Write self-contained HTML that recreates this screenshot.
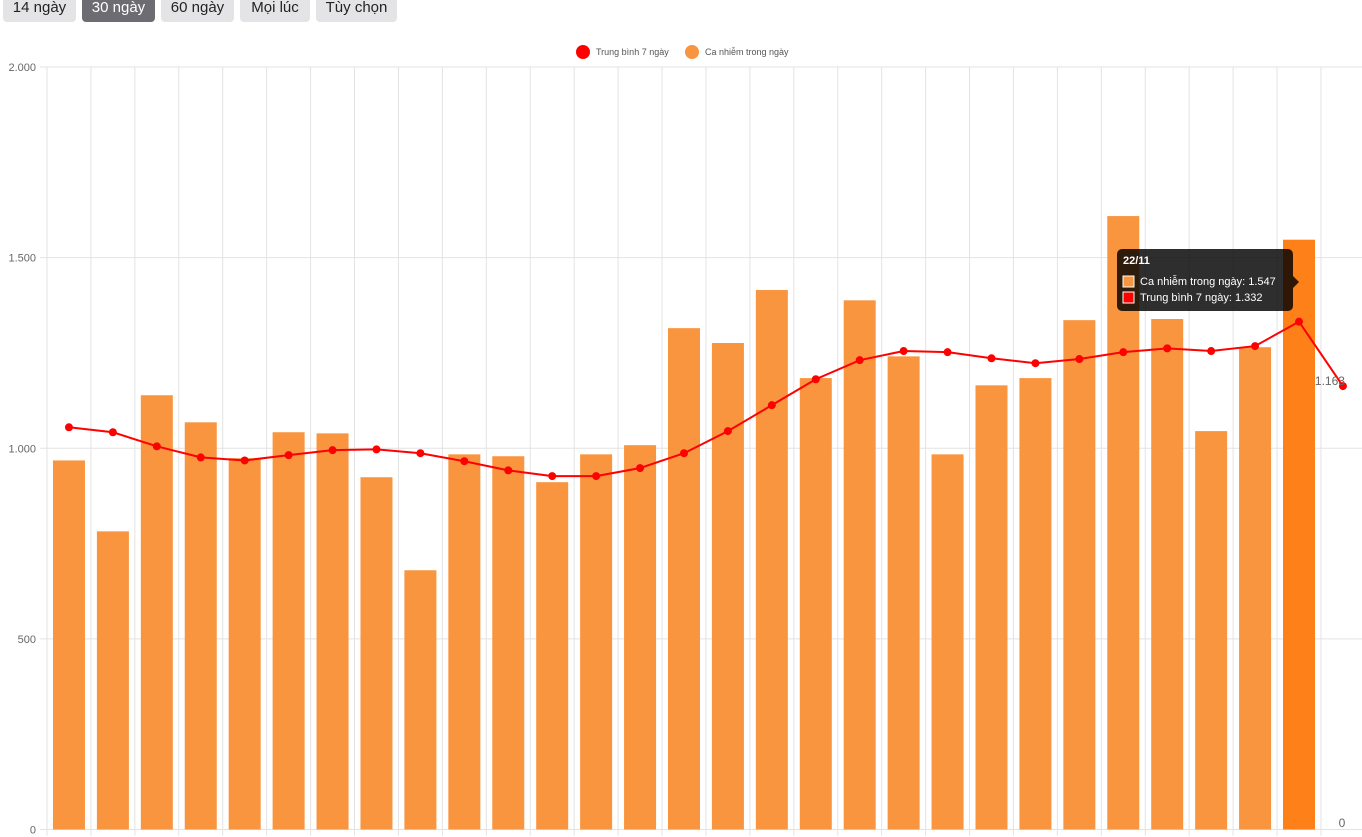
<!DOCTYPE html>
<html><head><meta charset="utf-8"><style>
body{margin:0;width:1362px;height:837px;overflow:hidden;background:#fff;font-family:"Liberation Sans","Noto Sans CJK SC",sans-serif}
.btn{position:absolute;top:-4px;height:26px;border-radius:4px;background:#e4e4e6;color:#222;font-size:15px;line-height:24px;text-align:center}
.btn.on{background:#6c6c72;color:#fff}
</style></head><body>
<div class="btn" style="left:3px;width:73px">14 ngày</div>
<div class="btn on" style="left:82px;width:73px">30 ngày</div>
<div class="btn" style="left:161px;width:73px">60 ngày</div>
<div class="btn" style="left:240px;width:70px">Mọi lúc</div>
<div class="btn" style="left:316px;width:81px">Tùy chọn</div>
<svg id="chart" width="1362" height="837" style="position:absolute;left:0;top:0"></svg>
<script>
const categories=[];for(let i=0;i<30;i++)categories.push('d'+(i+1));
const dailyCases=[968,782,1139,1068,974,1042,1039,924,680,984,979,911,984,1008,1315,1276,1415,1184,1388,1241,984,1165,1184,1336,1609,1339,1045,1265,1547,0];
const avg7=[1055,1042,1005,976,968,982,995,997,987,966,942,927,927,948,987,1045,1113,1181,1231,1255,1252,1236,1223,1234,1252,1262,1255,1268,1332,1163];
const yTicks=[0,500,1000,1500,2000];
const yTickLabels=['0','500','1.000','1.500','2.000'];
const NS='http://www.w3.org/2000/svg',svg=document.getElementById('chart');
const x0=47,step=43.93,yb=829.5,yt=67;
const y=v=>yb-(v/2000)*(yb-yt);
const xc=i=>x0+step*(i+0.5);
function mk(t,a,p){const e=document.createElementNS(NS,t);for(const k in a)e.setAttribute(k,a[k]);(p||svg).appendChild(e);return e;}
yTicks.forEach((v,i)=>{
const g=mk('line',{x1:40,x2:1362,y1:y(v),y2:y(v),stroke:'#e3e3e3'});


const t=mk('text',{x:36,y:y(v)+4,'text-anchor':'end','font-size':11,fill:'#666'});t.textContent=yTickLabels[i];


});
for(let i=0;i<=categories.length;i++){
const g=mk('line',{x1:x0+step*i,x2:x0+step*i,y1:yt,y2:yb+6,stroke:'#e3e3e3'});


}
dailyCases.forEach((v,i)=>{
const b=mk('rect',{x:xc(i)-16,y:y(v),width:32,height:yb-y(v),fill:i==28?'#fd8019':'#f9943f'});


});
const pl=mk('polyline',{points:avg7.map((v,i)=>xc(i)+','+y(v)).join(' '),fill:'none',stroke:'#f00','stroke-width':2});


avg7.forEach((v,i)=>{
const c=mk('circle',{cx:xc(i),cy:y(v),r:4,fill:'#f00'});


});
const lv=mk('text',{x:xc(29)+2,y:y(avg7[29])-1,'text-anchor':'end','font-size':12,fill:'#666'});lv.textContent=avg7[29].toLocaleString('de-DE');


const lz=mk('text',{x:xc(29)-1,y:827,'text-anchor':'middle','font-size':12,fill:'#666'});lz.textContent=String(dailyCases[29]);


// legend
const lg=mk('g',{});


mk('circle',{cx:583,cy:52,r:7,fill:'#f00'},lg);
const l1=mk('text',{x:596,y:55,'font-size':9,fill:'#555'},lg);l1.textContent='Trung bình 7 ngày';
mk('circle',{cx:692,cy:52,r:7,fill:'#f9943f'},lg);
const l2=mk('text',{x:705,y:55,'font-size':9,fill:'#555'},lg);l2.textContent='Ca nhiễm trong ngày';
// tooltip
const tg=mk('g',{});


mk('rect',{x:1117,y:249,width:176,height:62,rx:5,fill:'rgba(0,0,0,0.82)'},tg);
mk('polygon',{points:'1293,276 1299,282 1293,288',fill:'rgba(0,0,0,0.82)'},tg);
const tt=mk('text',{x:1123,y:264,'font-size':11,'font-weight':'bold',fill:'#fff'},tg);tt.textContent='22/11';
mk('rect',{x:1123,y:276,width:11,height:11,fill:'#f9943f',stroke:'#fff','stroke-width':1},tg);
const t1=mk('text',{x:1140,y:285,'font-size':11,fill:'#fff'},tg);t1.textContent='Ca nhiễm trong ngày: '+dailyCases[28].toLocaleString('de-DE');
mk('rect',{x:1123,y:292,width:11,height:11,fill:'#f00',stroke:'#fff','stroke-width':1},tg);
const t2=mk('text',{x:1140,y:301,'font-size':11,fill:'#fff'},tg);t2.textContent='Trung bình 7 ngày: '+avg7[28].toLocaleString('de-DE');
</script>
</body></html>
